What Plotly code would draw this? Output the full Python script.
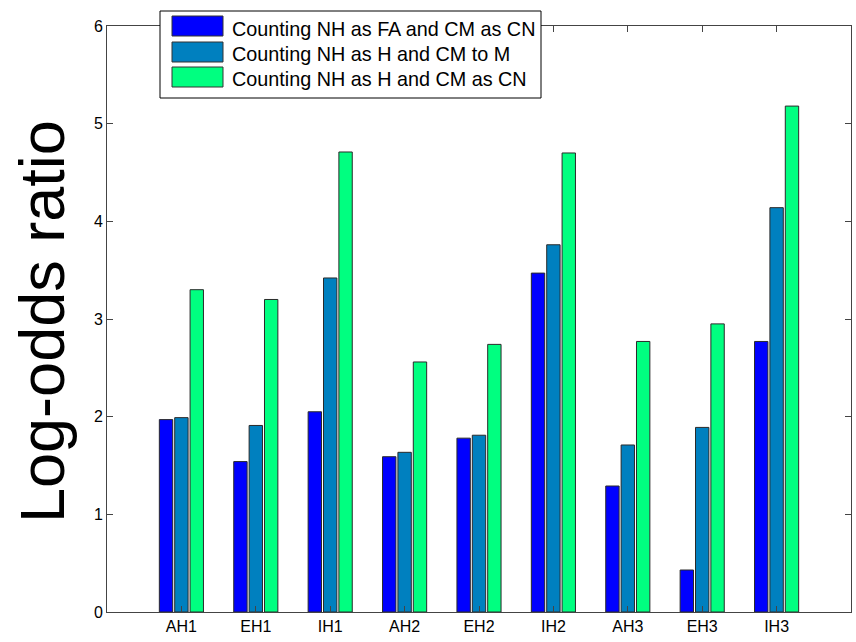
import plotly.graph_objects as go

categories = ["AH1", "EH1", "IH1", "AH2", "EH2", "IH2", "AH3", "EH3", "IH3"]
series_names = [
    "Counting NH as FA and CM as CN",
    "Counting NH as H and CM to M",
    "Counting NH as H and CM as CN",
]
fa_cn = [1.97, 1.54, 2.05, 1.59, 1.78, 3.47, 1.29, 0.43, 2.77]
h_m = [1.99, 1.91, 3.42, 1.635, 1.81, 3.76, 1.71, 1.89, 4.14]
h_cn = [3.30, 3.20, 4.71, 2.56, 2.74, 4.70, 2.77, 2.95, 5.18]
series_values = [fa_cn, h_m, h_cn]
colors = ["#0000FF", "#0080BF", "#00FF80"]
y_ticks = [0, 1, 2, 3, 4, 5, 6]

W, H = 856, 642
L, R, T, B = 107, 851, 26, 612
FONT = "Liberation Sans, Arial, Helvetica, sans-serif"


def px(X):
    return (X - L) / (R - L)


def py(Y):
    return (B - Y) / (B - T)


fig = go.Figure()
for name, vals, col in zip(series_names, series_values, colors):
    fig.add_trace(go.Bar(
        x=categories, y=vals, name=name,
        marker=dict(color=col, line=dict(color="#2a2a2a", width=1)),
        showlegend=False,
    ))

shapes = []
annotations = []

# custom legend box
shapes.append(dict(type="rect", xref="paper", yref="paper",
                   x0=px(160), x1=px(541), y0=py(98), y1=py(11),
                   fillcolor="white", line=dict(color="black", width=1), layer="above"))
sw_rows = [(16, 36), (42, 62), (67, 87)]
txt_rows = [29, 54, 79]
for (y0, y1), ty, name, col in zip(sw_rows, txt_rows, series_names, colors):
    shapes.append(dict(type="rect", xref="paper", yref="paper",
                       x0=px(172), x1=px(223), y0=py(y1), y1=py(y0),
                       fillcolor=col, line=dict(color="#333333", width=1), layer="above"))
    annotations.append(dict(xref="paper", yref="paper", x=px(230), y=py(ty),
                            xanchor="left", yanchor="middle", showarrow=False,
                            text=name, font=dict(family=FONT, size=19.8, color="black")))

# big y-axis title
annotations.append(dict(xref="paper", yref="paper", x=px(42), y=py(322),
                        xanchor="center", yanchor="middle", showarrow=False,
                        textangle=-90, text="Log-odds ratio",
                        font=dict(family=FONT, size=63, color="black")))

fig.update_layout(
    width=W, height=H,
    margin=dict(l=L, r=W - R, t=T, b=H - B, pad=0),
    paper_bgcolor="white", plot_bgcolor="white",
    barmode="group", bargap=0.38, bargroupgap=0.13,
    font=dict(family=FONT, size=16, color="black"),
    shapes=shapes, annotations=annotations,
)
fig.update_xaxes(
    type="category", range=[-1, len(categories)],
    showline=True, linecolor="#444444", linewidth=1, mirror="allticks",
    ticks="inside", ticklen=6, tickcolor="#444444",
    showgrid=False, zeroline=False,
    tickfont=dict(family=FONT, size=16, color="black"),
)
fig.update_yaxes(
    range=[0, 6], tickvals=y_ticks, ticktext=[str(v) for v in y_ticks],
    showline=True, linecolor="#444444", linewidth=1, mirror="allticks",
    ticks="inside", ticklen=6, tickcolor="#444444",
    showgrid=False, zeroline=False,
    tickfont=dict(family=FONT, size=16, color="black"),
)

fig.write_html("out.html", config={"displayModeBar": False},
               post_script="document.body.style.margin='0';")
